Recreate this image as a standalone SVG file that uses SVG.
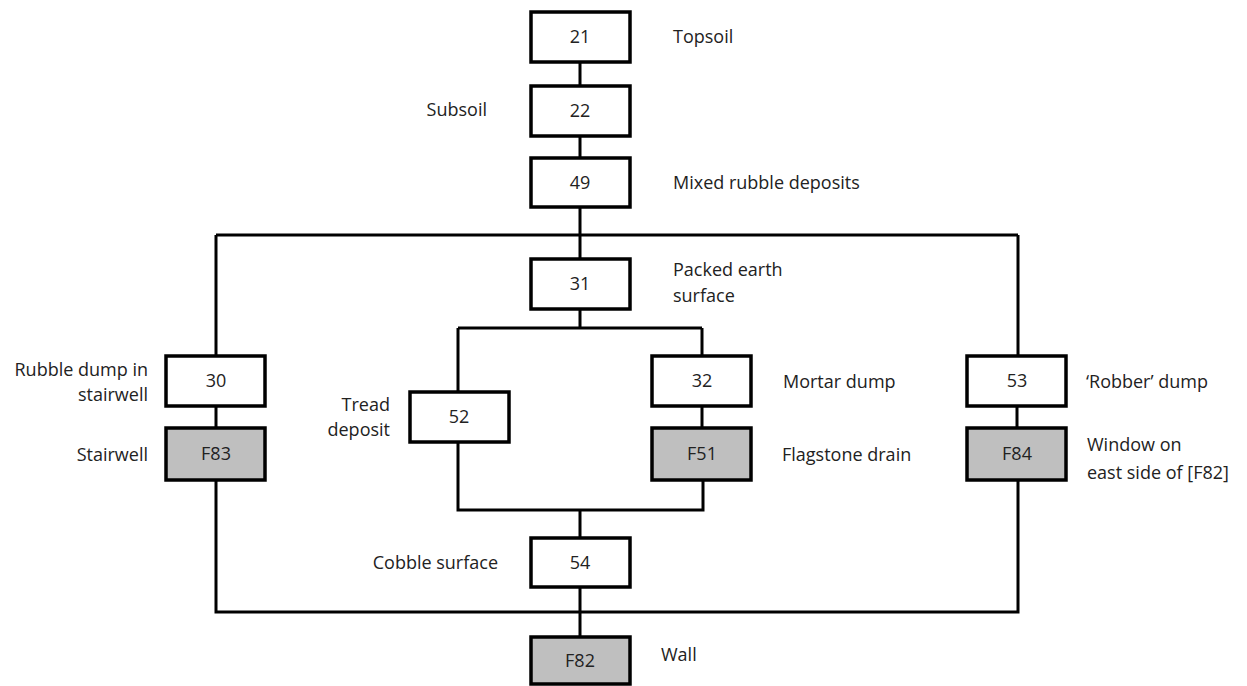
<svg xmlns="http://www.w3.org/2000/svg" width="1247" height="686" viewBox="0 0 1247 686">
<style>
.b{fill:#fff;stroke:#000;stroke-width:3.5}
.g{fill:#bfbfbf;stroke:#000;stroke-width:3.5}
.n{font-family:"Open Sans",sans-serif;font-size:18px;fill:#222;text-anchor:middle}
.l{font-family:"Open Sans",sans-serif;font-size:18px;fill:#222}
.r{text-anchor:end}
.c{fill:none;stroke:#000;stroke-width:3}
</style>
<rect width="1247" height="686" fill="#fff"/>
<g id="connectors">
<path class="c" d="M580 62V85M580 136V158M580 207V259M216 235H1018M216 235V356M1018 235V356M580 309V328M216 406V428M702 406V428M1017 406V428M580 510V538M580 587V637M216 480V612H1018V480M458 442V510H703V480"/>
<path class="c" stroke-width="4" d="M458 328H702M458 328V392M702 328V356"/>
</g>
<g id="n21"><rect class="b" x="531" y="12" width="99" height="50"/><text class="n" x="580" y="43">21</text><text class="l" x="673" y="43">Topsoil</text></g>
<g id="n22"><rect class="b" x="531" y="86" width="99" height="50"/><text class="n" x="580" y="117">22</text><text class="l r" x="487" y="116">Subsoil</text></g>
<g id="n49"><rect class="b" x="531" y="158" width="99" height="49"/><text class="n" x="580" y="189">49</text><text class="l" x="673" y="189">Mixed rubble deposits</text></g>
<g id="n31"><rect class="b" x="531" y="259" width="99" height="50"/><text class="n" x="580" y="290">31</text><text class="l" x="673" y="276">Packed earth</text><text class="l" x="673" y="302">surface</text></g>
<g id="n30"><rect class="b" x="166" y="356" width="99" height="50"/><text class="n" x="216" y="387">30</text><text class="l r" x="148" y="376">Rubble dump in</text><text class="l r" x="148" y="401">stairwell</text></g>
<g id="n32"><rect class="b" x="652" y="356" width="99" height="50"/><text class="n" x="702" y="387">32</text><text class="l" x="783" y="388">Mortar dump</text></g>
<g id="n53"><rect class="b" x="967" y="356" width="99" height="50"/><text class="n" x="1017" y="387">53</text><text class="l" x="1086" y="388">‘Robber’ dump</text></g>
<g id="n52"><rect class="b" x="410" y="392" width="99" height="50"/><text class="n" x="459" y="423">52</text><text class="l r" x="390" y="411">Tread</text><text class="l r" x="390" y="436">deposit</text></g>
<g id="nF83"><rect class="g" x="166" y="428" width="99" height="52"/><text class="n" x="216" y="460">F83</text><text class="l r" x="148" y="461">Stairwell</text></g>
<g id="nF51"><rect class="g" x="652" y="428" width="99" height="52"/><text class="n" x="702" y="460">F51</text><text class="l" x="782" y="461">Flagstone drain</text></g>
<g id="nF84"><rect class="g" x="967" y="428" width="99" height="52"/><text class="n" x="1017" y="460">F84</text><text class="l" x="1087" y="451">Window on</text><text class="l" x="1087" y="479">east side of [F82]</text></g>
<g id="n54"><rect class="b" x="531" y="538" width="99" height="49"/><text class="n" x="580" y="569">54</text><text class="l r" x="498" y="569">Cobble surface</text></g>
<g id="nF82"><rect class="g" x="531" y="637" width="99" height="47"/><text class="n" x="580" y="667">F82</text><text class="l" x="661" y="661">Wall</text></g>
</svg>
